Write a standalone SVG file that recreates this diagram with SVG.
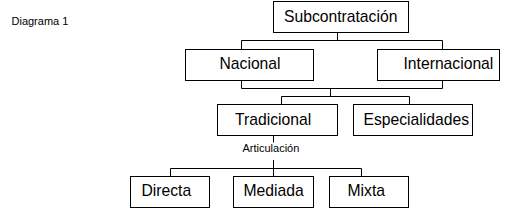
<svg xmlns="http://www.w3.org/2000/svg" width="507" height="210" viewBox="0 0 507 210">
<style>
.box{fill:#fff;stroke:#000;stroke-width:1}
.lbl{font-family:"Liberation Sans",Arial,sans-serif;font-size:15.7px;fill:#000}
.sm{font-family:"Liberation Sans",Arial,sans-serif;font-size:11px;fill:#000}
.con{fill:none;stroke:#000;stroke-width:1}
</style>
<rect width="507" height="210" fill="#fff"/>
<text class="sm" x="11.5" y="25">Diagrama 1</text>
<g id="connectors" class="con">
<path d="M337.5 32.5V40.5M241.5 40.5H442.5M241.5 40.5V49.5M442.5 40.5V49.5"/>
<path d="M241.5 80.5V88.5M442.5 80.5V88.5M241.5 88.5H442.5M330.5 88.5V96.5M281.5 96.5H409.5M281.5 96.5V104.5M409.5 96.5V104.5"/>
<path d="M273.5 135.5V142.5M273.5 160V168.5M170.5 168.5H361.5M170.5 168.5V176.5M273.5 168.5V176.5M361.5 168.5V176.5"/>
<text class="sm" x="242.5" y="152" stroke="none">Articulación</text>
</g>
<g id="subcontratacion"><rect class="box" x="273.5" y="1.5" width="135" height="31"/><text class="lbl" x="284" y="22">Subcontratación</text></g>
<g id="nacional"><rect class="box" x="185.5" y="49.5" width="128" height="31"/><text class="lbl" x="219.5" y="69">Nacional</text></g>
<g id="internacional"><rect class="box" x="377.5" y="49.5" width="122" height="31"/><text class="lbl" x="403.5" y="69">Internacional</text></g>
<g id="tradicional"><rect class="box" x="217.5" y="104.5" width="120" height="31"/><text class="lbl" x="235" y="124.5">Tradicional</text></g>
<g id="especialidades"><rect class="box" x="353.5" y="104.5" width="119" height="31"/><text class="lbl" x="363.5" y="124.5">Especialidades</text></g>
<g id="directa"><rect class="box" x="130.5" y="176.5" width="79" height="31"/><text class="lbl" x="141.5" y="196">Directa</text></g>
<g id="mediada"><rect class="box" x="233.5" y="176.5" width="80" height="31"/><text class="lbl" x="243.5" y="196">Mediada</text></g>
<g id="mixta"><rect class="box" x="329.5" y="176.5" width="79" height="31"/><text class="lbl" x="347.5" y="196">Mixta</text></g>
</svg>
